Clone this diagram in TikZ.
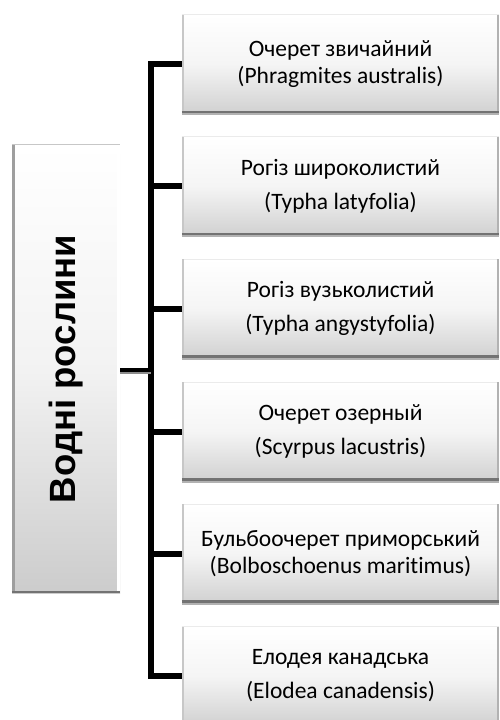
\documentclass[tikz,border=0pt]{standalone}
\usepackage{fontspec}
\setmainfont[Ligatures=NoCommon]{Carlito}
\newfontfamily\headfont{Liberation Sans}
\begin{document}
\begin{tikzpicture}[x=1pt,y=-1pt,
  item/.style={minimum width=317pt,minimum height=98pt,inner sep=0pt,align=center,
    top color=white,bottom color=black!18,middle color=black!4,
    font=\fontsize{23.5}{27}\selectfont},
  rootbox/.style={minimum width=108pt,minimum height=448pt,inner sep=0pt,
    top color=white,bottom color=black!20,middle color=black!5},
  conn/.style={line width=6pt,black,line join=miter},
  stub/.style={line width=4.5pt,black}]
\useasboundingbox (0,0) rectangle (499,720);
\fill[white] (0,0) rectangle (499,720);

% root box
\node[rootbox] (root) at (66,369) {};
\draw[line width=3pt,black!38] ([xshift=1.5pt]root.north west) -- ([xshift=1.5pt]root.south west);
\draw[line width=1.2pt,black!22] (root.north west) -- (root.north east);
\draw[line width=3pt,white] ([xshift=-1.5pt]root.north east) -- ([xshift=-1.5pt]root.south east);
\draw[line width=2.5pt,black!55] ([yshift=1.2pt]root.south west) -- ([yshift=1.2pt]root.south east);
\node[rotate=90,font=\headfont\bfseries\fontsize{36.5}{40}\selectfont] (roottext) at (root) {Водні рослини};

% species boxes
\node[item] (b1) at (340.5,64) {Очерет звичайний\\[0pt](Phragmites australis)};
\node[item] (b2) at (340.5,186) {Рогіз широколистий\\[7pt](Typha latyfolia)};
\node[item] (b3) at (340.5,308.5) {Рогіз вузьколистий\\[7pt](Typha angystyfolia)};
\node[item] (b4) at (340.5,431.5) {Очерет озерный\\[7pt](Scyrpus lacustris)};
\node[item] (b5) at (340.5,553.5) {Бульбоочерет приморський\\[0pt](Bolboschoenus maritimus)};
\node[item] (b6) at (340.5,676) {Елодея канадська\\[7pt](Elodea canadensis)};

\foreach \n in {b1,b2,b3,b4,b5,b6}{
  \draw[line width=1pt,black!8] (\n.north west) -- (\n.north east);
  \draw[line width=2.5pt,black!22] ([xshift=1.25pt]\n.north west) -- ([xshift=1.25pt]\n.south west);
  \draw[line width=2pt,black!30] ([xshift=-1pt]\n.north east) -- ([xshift=-1pt]\n.south east);
  \draw[line width=2pt,black!30] ([yshift=-1pt]\n.south west) -- ([yshift=-1pt]\n.south east);
  \draw[line width=2.5pt,black!55] ([yshift=1.25pt]\n.south west) -- ([yshift=1.25pt]\n.south east);
}

% connectors
\coordinate (tk) at (151,0);
\draw[conn] (b1.west) -- (b1.west -| tk) -- (b6.west -| tk) -- (b6.west);
\foreach \n in {b2,b3,b4,b5}
  \draw[conn] (\n.west -| tk) -- (\n.west);
\draw[line width=2pt,black!45] ([yshift=-3.5pt]root.east) -- ([yshift=-3.5pt]root.east -| tk);
\draw[stub] ([yshift=-1pt]root.east) -- ([yshift=-1pt]root.east -| tk);
\end{tikzpicture}
\end{document}
